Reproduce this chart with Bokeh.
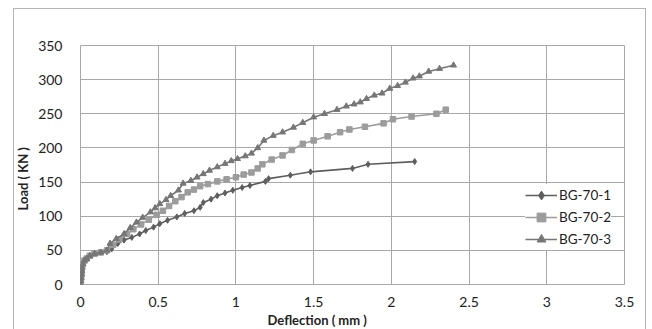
from bokeh.plotting import figure
from bokeh.models import Range1d, FixedTicker, Legend, LegendItem, Title
from bokeh.embed import file_html
from bokeh.resources import INLINE

# BG-70-1
x1 = [0, 0.002, 0.004, 0.006, 0.008, 0.01, 0.015, 0.025, 0.04, 0.06,
      0.09, 0.13, 0.17, 0.2, 0.24, 0.28, 0.33, 0.38, 0.42, 0.47,
      0.51, 0.56, 0.62, 0.67, 0.73, 0.77, 0.79, 0.84, 0.88, 0.93,
      0.98, 1.04, 1.09, 1.19, 1.21, 1.35, 1.48, 1.75, 1.85, 2.15]
y1 = [0, 5, 10, 15, 20, 25, 30, 35, 38, 42,
      45, 47, 48, 52, 60, 65, 69, 74, 79, 84,
      89, 94, 99, 104, 108, 113, 120, 125, 130, 134,
      138, 142, 145, 151, 155, 160, 165, 170, 176, 180]
# BG-70-2
x2 = [0, 0.002, 0.004, 0.006, 0.008, 0.01, 0.015, 0.025, 0.04, 0.06,
      0.09, 0.13, 0.17, 0.21, 0.25, 0.3, 0.34, 0.39, 0.44, 0.49,
      0.53, 0.57, 0.61, 0.65, 0.69, 0.73, 0.77, 0.82, 0.88, 0.94,
      1.0, 1.05, 1.1, 1.14, 1.17, 1.23, 1.3, 1.36, 1.43, 1.5,
      1.59, 1.67, 1.73, 1.83, 1.95, 2.01, 2.13, 2.29, 2.35]
y2 = [0, 5, 10, 15, 20, 25, 30, 35, 38, 42,
      45, 47, 50, 58, 66, 74, 81, 88, 95, 102,
      108, 115, 122, 128, 135, 139, 144, 147, 151, 154,
      157, 161, 164, 170, 176, 183, 189, 197, 206, 211,
      217, 223, 227, 231, 236, 242, 246, 250, 256]
# BG-70-3
x3 = [0, 0.002, 0.004, 0.006, 0.008, 0.01, 0.015, 0.025, 0.04, 0.06,
      0.09, 0.13, 0.17, 0.19, 0.23, 0.28, 0.32, 0.36, 0.4, 0.45,
      0.48, 0.51, 0.55, 0.58, 0.63, 0.66, 0.71, 0.75, 0.79, 0.83,
      0.88, 0.93, 0.97, 1.01, 1.06, 1.1, 1.14, 1.18, 1.24, 1.3,
      1.37, 1.43, 1.5, 1.57, 1.65, 1.71, 1.76, 1.8, 1.84, 1.89,
      1.94, 1.99, 2.04, 2.09, 2.14, 2.18, 2.24, 2.31, 2.4]
y3 = [0, 5, 10, 15, 20, 25, 30, 35, 38, 42,
      45, 47, 50, 60, 67, 74, 83, 91, 98, 106,
      112, 118, 124, 130, 138, 148, 152, 157, 162, 167,
      172, 177, 181, 184, 188, 192, 200, 211, 218, 223,
      230, 237, 245, 250, 256, 261, 264, 267, 272, 277,
      280, 287, 291, 296, 302, 305, 312, 316, 321]

series_names = ["BG-70-1", "BG-70-2", "BG-70-3"]
x_ticks = [0, 0.5, 1, 1.5, 2, 2.5, 3, 3.5]
x_tick_labels = ["0", "0.5", "1", "1.5", "2", "2.5", "3", "3.5"]
y_ticks = [0, 50, 100, 150, 200, 250, 300, 350]
x_title = "Deflection ( mm )"
y_title = "Load ( KN )"

FONT = "Lato"
GRID = "#a8a8a8"
FRAME = "#b4b4b4"

p = figure(width=652, height=329, output_backend="svg", toolbar_location=None,
           x_range=Range1d(0, 3.5), y_range=Range1d(0, 350),
           min_border_left=80, min_border_right=28, min_border_top=45, min_border_bottom=45)
p.background_fill_color = "white"
p.border_fill_alpha = 0
g = f"linear-gradient({FRAME}, {FRAME})"
p.styles = {"background": f"{g} 13px 8px / 1px 340px no-repeat, "
                          f"{g} 13px 8px / 633px 1px no-repeat, "
                          f"{g} 645px 8px / 1px 340px no-repeat, white"}
p.outline_line_color = GRID
p.outline_line_width = 1

for ax in (p.xaxis[0], p.yaxis[0]):
    ax.axis_line_color = None
    ax.major_tick_line_color = None
    ax.minor_tick_line_color = None
    ax.major_label_text_font = FONT
    ax.major_label_text_font_size = "14px"
    ax.major_label_text_color = "#222222"

p.xaxis[0].ticker = FixedTicker(ticks=x_ticks)
p.xaxis[0].major_label_overrides = {t: l for t, l in zip(x_ticks, x_tick_labels)}
p.xaxis[0].major_label_standoff = 6
p.yaxis[0].ticker = FixedTicker(ticks=y_ticks)
p.yaxis[0].major_label_standoff = 12

p.xgrid[0].ticker = FixedTicker(ticks=x_ticks)
p.ygrid[0].ticker = FixedTicker(ticks=y_ticks)
p.xgrid.grid_line_color = GRID
p.ygrid.grid_line_color = GRID

colors = ["#5e5e5e", "#9c9c9c", "#767676"]
l1 = p.line(x1, y1, line_color=colors[0], line_width=1.6)
m1 = p.scatter(x1, y1, marker="diamond", size=6, color=colors[0])
l2 = p.line(x2, y2, line_color=colors[1], line_width=1.6)
m2 = p.scatter(x2, y2, marker="square", size=5.5, color=colors[1])
l3 = p.line(x3, y3, line_color=colors[2], line_width=1.6)
m3 = p.scatter(x3, y3, marker="triangle", size=6, color=colors[2])

legend = Legend(items=[LegendItem(label=series_names[0], renderers=[l1, m1]),
                       LegendItem(label=series_names[1], renderers=[l2, m2]),
                       LegendItem(label=series_names[2], renderers=[l3, m3])],
                location=(445, 34))
legend.label_text_font = FONT
legend.label_text_font_size = "13.5px"
legend.label_text_color = "#222222"
legend.glyph_width = 32
legend.glyph_height = 22
legend.label_height = 22
legend.label_standoff = 2
legend.spacing = 0
legend.padding = 0
legend.margin = 0
legend.border_line_alpha = 0
legend.background_fill_color = "white"
legend.background_fill_alpha = 1
p.add_layout(legend)

p.add_layout(Title(text=x_title, align="left", offset=187, standoff=0,
                   text_font=FONT, text_font_size="13px", text_font_style="bold",
                   text_color="#222222"), "below")
p.add_layout(Title(text=y_title, align="left", offset=74, standoff=9,
                   text_font=FONT, text_font_size="13px", text_font_style="bold",
                   text_color="#222222"), "left")

open("out.html", "w").write(file_html(p, INLINE))
